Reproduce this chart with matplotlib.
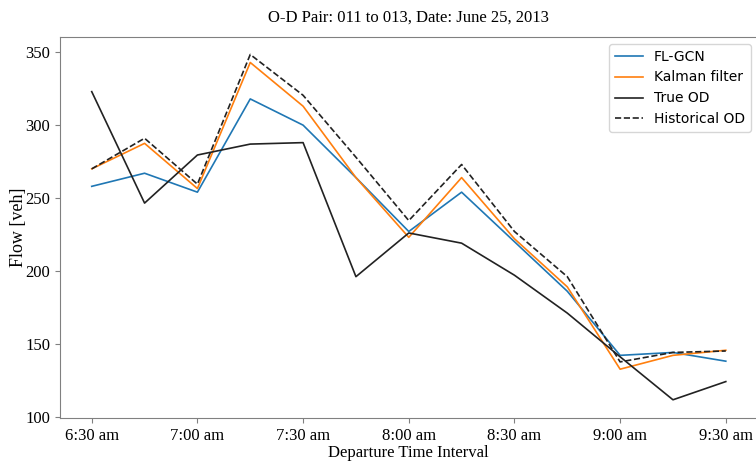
import matplotlib
matplotlib.use('Agg')
import matplotlib.pyplot as plt

#### O-D pair 011 -> 013, June 25, 2013
times = ['6:30 am', '6:45 am', '7:00 am', '7:15 am', '7:30 am', '7:45 am', '8:00 am',
         '8:15 am', '8:30 am', '8:45 am', '9:00 am', '9:15 am', '9:30 am']
fl_gcn = [258, 267, 254, 318, 300, 264, 227, 254, 220, 186, 142, 144, 138]
kalman = [270, 287.5, 256.5, 343, 313, 264, 223, 264, 222, 189, 132.5, 142, 145.5]
true_od = [323, 246.5, 279.5, 287, 288, 196, 226, 219, 197, 171, 141, 111.5, 124]
historical = [270, 291, 259.5, 348.5, 320.5, 278, 234.5, 273, 227, 196, 137.5, 144, 145]

serif = 'Liberation Serif'

fig = plt.figure(figsize=(7.56, 4.66), dpi=100)
ax = fig.add_axes([0.0794, 0.103, 0.9226, 0.8176])

x = range(len(times))
ax.plot(x, fl_gcn, color='#1f77b4', lw=1.2, label='FL-GCN')
ax.plot(x, kalman, color='#ff7f0e', lw=1.2, label='Kalman filter')
ax.plot(x, true_od, color='#222222', lw=1.2, label='True OD')
ax.plot(x, historical, color='#222222', lw=1.2, ls='--', label='Historical OD')

ax.set_xlim(-0.6, 12.6)
ax.set_ylim(99, 360.5)
ax.set_xticks(list(x)[::2])
ax.set_xticklabels(times[::2], fontfamily=serif, fontsize=12)
ax.set_yticks([100, 150, 200, 250, 300, 350])
ax.set_yticklabels(['100', '150', '200', '250', '300', '350'], fontfamily=serif, fontsize=12)
ax.set_xlabel('Departure Time Interval', fontfamily=serif, fontsize=12, labelpad=1)
ax.set_ylabel('Flow [veh]', fontfamily=serif, fontsize=13, labelpad=-1)
ax.set_title('O-D Pair: 011 to 013, Date: June 25, 2013', fontfamily=serif, fontsize=12, pad=11)

for s in ax.spines.values():
    s.set_color('#808080')
ax.tick_params(colors='#808080', labelcolor='black')

ax.legend(loc='upper right', fontsize=10)
fig.savefig('out.png', dpi=100)
